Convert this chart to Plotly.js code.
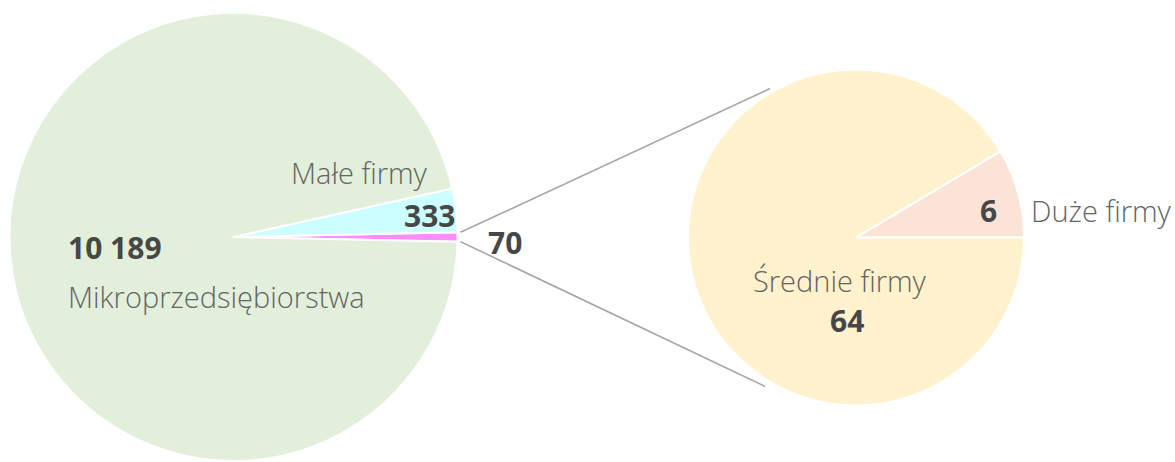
<!DOCTYPE html>
<html>
<head>
<meta charset="utf-8">
<script src="https://cdn.plot.ly/plotly-3.0.1.min.js"></script>
<style>html,body{margin:0;padding:0;background:#fff;}#chart{width:1175px;height:462px;}</style>
</head>
<body>
<div id="chart"></div>
<script>
// ---- data ----
const mainLabels = ['Średnie i duże firmy', 'Małe firmy', 'Mikroprzedsiębiorstwa'];
const mainValues = [70, 333, 10189];
const mainColors = ['#FF8CFF', '#CCFFFF', '#E2EFDA'];
const subLabels = ['Duże firmy', 'Średnie firmy'];
const subValues = [6, 64];
const subColors = ['#FBE3D6', '#FFF2CC'];

const W = 1175, H = 462;
function fmt(v){ return String(v).replace(/\B(?=(\d{3})+(?!\d))/g, '\u00a0'); }
function px(x){ return x / W; }
function py(y){ return 1 - y / H; }

// geometry (pixels)
const big = {cx: 233.5, cy: 237, r: 224};
const small = {cx: 856, cy: 237.5, r: 168};

const totalMain = mainValues.reduce((a,b)=>a+b,0);
const splitSpan = mainValues[0] / totalMain * 360;
const totalSub = subValues.reduce((a,b)=>a+b,0);
const bigSpan = subValues[0] / totalSub * 360;
// Plotly: counterclockwise -> first slice occupies [rotation, rotation + size] (clockwise from 12 o'clock)
const mainRotation = 90 - splitSpan / 2;
const subRotation = 90 - bigSpan;

const traces = [
  {
    type: 'pie', labels: mainLabels, values: mainValues, sort: false,
    direction: 'counterclockwise', rotation: mainRotation,
    marker: {colors: mainColors, line: {color: '#ffffff', width: 2}},
    textinfo: 'none', hoverinfo: 'label+value', showlegend: false,
    domain: {x: [px(big.cx - big.r), px(big.cx + big.r)], y: [py(big.cy + big.r), py(big.cy - big.r)]}
  },
  {
    type: 'pie', labels: subLabels, values: subValues, sort: false,
    direction: 'counterclockwise', rotation: subRotation,
    marker: {colors: subColors, line: {color: '#ffffff', width: 2}},
    textinfo: 'none', hoverinfo: 'label+value', showlegend: false,
    domain: {x: [px(small.cx - small.r), px(small.cx + small.r)], y: [py(small.cy + small.r), py(small.cy - small.r)]}
  }
];

// connector lines
const a0 = splitSpan / 2 * Math.PI / 180;
const a1 = 120 * Math.PI / 180;
const p1 = [big.cx + big.r * Math.cos(a0) + 3, big.cy - big.r * Math.sin(a0)];
const p2 = [big.cx + big.r * Math.cos(a0) + 3, big.cy + big.r * Math.sin(a0)];
const q1 = [small.cx + (small.r + 4) * Math.cos(a1), small.cy - (small.r + 4) * Math.sin(a1)];
const q2 = [small.cx + (small.r + 4) * Math.cos(a1) - 5, small.cy + (small.r + 4) * Math.sin(a1)];
const lineStyle = {color: '#A6A6A6', width: 1.6};
const shapes = [
  {type: 'line', xref: 'paper', yref: 'paper', x0: px(p1[0]), y0: py(p1[1]), x1: px(q1[0]), y1: py(q1[1]), line: lineStyle},
  {type: 'line', xref: 'paper', yref: 'paper', x0: px(p2[0]), y0: py(p2[1]), x1: px(q2[0]), y1: py(q2[1]), line: lineStyle}
];

const LIGHT = '"Open Sans", sans-serif';
const BOLD = '"Open Sans", sans-serif';
const lightFont = {family: LIGHT, size: 29, color: '#646464', weight: 300};
const boldFont = {family: BOLD, size: 30, color: '#474747', weight: 700};
function ann(text, x, y, font, xanchor){
  return {text: text, x: px(x), y: py(y), xref: 'paper', yref: 'paper', showarrow: false,
          xanchor: xanchor || 'center', yanchor: 'middle', font: font};
}
const annotations = [
  ann(mainLabels[1], 359, 173, lightFont),
  ann(fmt(mainValues[1]), 430, 215, boldFont),
  ann(fmt(mainValues[2]), 66, 247, boldFont, 'left'),
  ann(mainLabels[2], 66, 296, lightFont, 'left'),
  ann(fmt(mainValues[0]), 505, 242, boldFont),
  ann(fmt(subValues[0]), 988, 210, boldFont),
  ann(subLabels[0], 1029, 210, lightFont, 'left'),
  ann(subLabels[1], 840, 280, lightFont),
  ann(fmt(subValues[1]), 847, 320, boldFont)
];

const layout = {
  width: W, height: H,
  margin: {l: 0, r: 0, t: 0, b: 0},
  paper_bgcolor: '#ffffff',
  showlegend: false,
  shapes: shapes,
  annotations: annotations
};
Plotly.newPlot('chart', traces, layout, {displayModeBar: false, staticPlot: true});
</script>
</body>
</html>
